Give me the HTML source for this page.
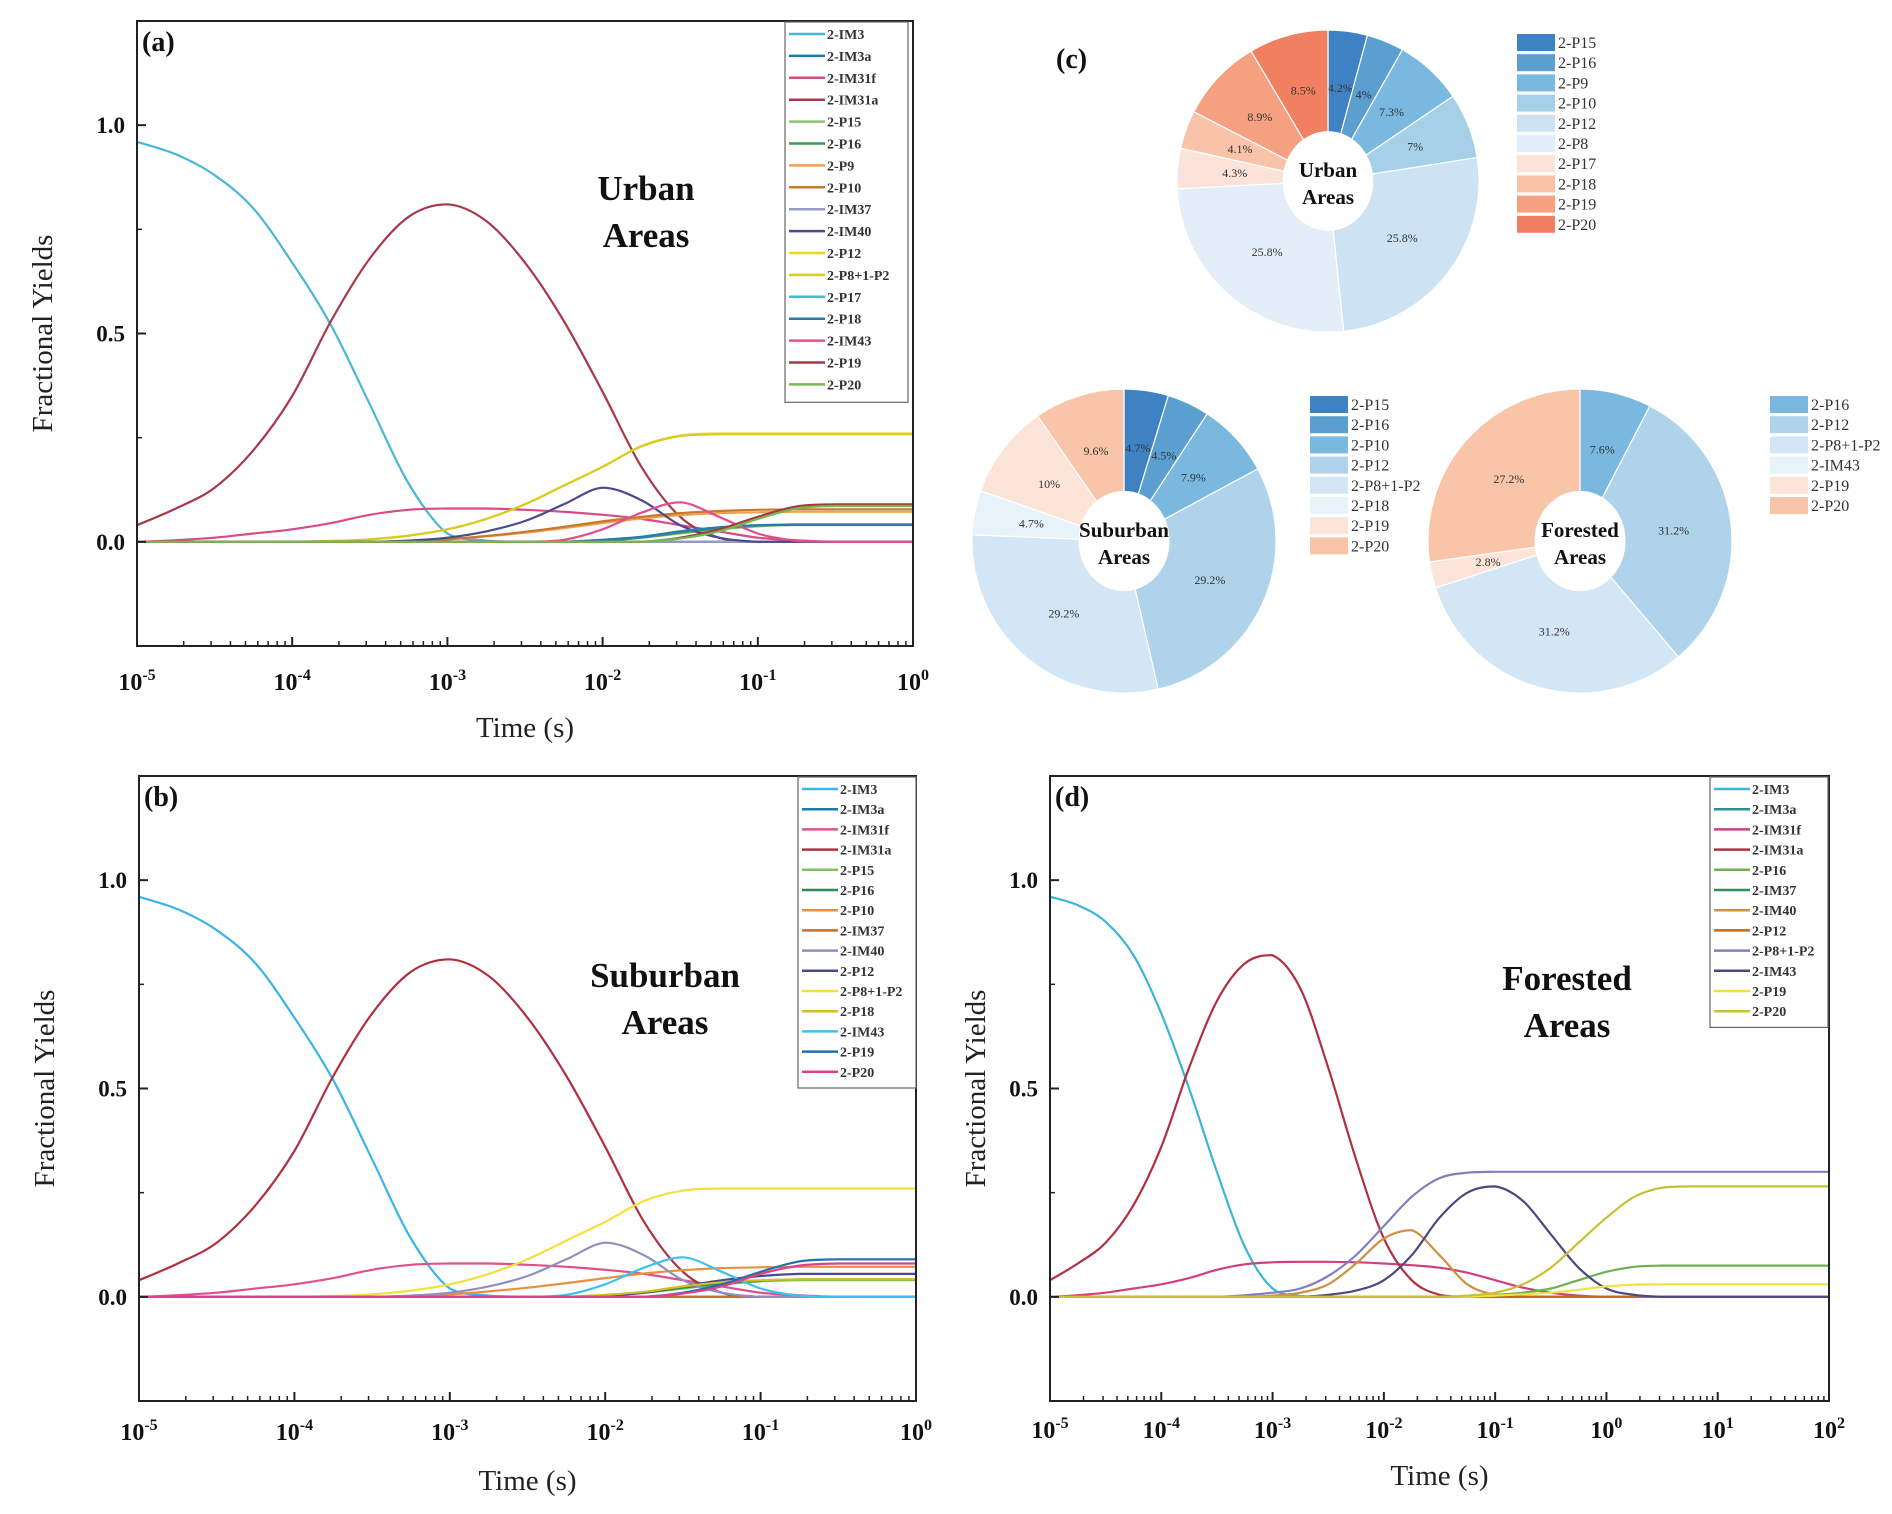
<!DOCTYPE html>
<html><head><meta charset="utf-8">
<style>
body{margin:0;background:#fff;}
svg{display:block;font-family:"Liberation Serif",serif;}
</style></head>
<body>
<svg id="fig" width="1892" height="1514" viewBox="0 0 1892 1514" xmlns="http://www.w3.org/2000/svg"></svg>
<script>
// ---------- DATA ----------
const gridAB = [-5,-4.75,-4.5,-4.25,-4,-3.75,-3.5,-3.25,-3,-2.75,-2.5,-2.25,-2,-1.75,-1.5,-1.25,-1,-0.75,-0.5,-0.25,0];
const gridD = [-5,-4.75,-4.5,-4.25,-4,-3.75,-3.5,-3.25,-3,-2.75,-2.5,-2.25,-2,-1.75,-1.5,-1.25,-1,-0.75,-0.5,-0.25,0,0.25,0.5,0.75,1,1.25,1.5,1.75,2];

const urbanNames = ["2-IM3","2-IM3a","2-IM31f","2-IM31a","2-P15","2-P16","2-P9","2-P10","2-IM37","2-IM40","2-P12","2-P8+1-P2","2-P17","2-P18","2-IM43","2-P19","2-P20"];
const urbanColors = ["#4cb6d6","#1f78a8","#d94a86","#a8384a","#8cc26a","#3a9a5a","#f0a050","#c8782a","#9a9ac8","#4a4a8c","#e8d820","#d8cc20","#40bcd0","#2a7ab0","#e0508c","#a03a44","#78b850"];
const urbanValues = [
 [0.96,0.93,0.88,0.80,0.67,0.52,0.33,0.14,0.02,0.003,0,0,0,0,0,0,0,0,0,0,0],
 [0,0,0,0,0,0,0,0,0,0,0,0,0,0,0,0,0,0,0,0,0],
 [0,0.004,0.01,0.02,0.03,0.045,0.065,0.077,0.08,0.08,0.077,0.072,0.065,0.055,0.04,0.025,0.01,0.004,0,0,0],
 [0.04,0.08,0.13,0.22,0.35,0.53,0.68,0.78,0.81,0.77,0.67,0.53,0.36,0.18,0.06,0.01,0,0,0,0,0],
 [0,0,0,0,0,0,0,0,0,0,0,0,0.003,0.01,0.02,0.03,0.037,0.04,0.04,0.04,0.04],
 [0,0,0,0,0,0,0,0,0,0,0,0,0.003,0.01,0.022,0.032,0.039,0.042,0.042,0.042,0.042],
 [0,0,0,0,0,0,0,0.002,0.006,0.013,0.022,0.033,0.045,0.056,0.064,0.069,0.071,0.072,0.072,0.072,0.072],
 [0,0,0,0,0,0,0,0.002,0.006,0.014,0.024,0.036,0.049,0.06,0.069,0.074,0.077,0.078,0.078,0.078,0.078],
 [0,0,0,0,0,0,0,0,0,0,0,0,0,0,0,0,0,0,0,0,0],
 [0,0,0,0,0,0,0,0.003,0.01,0.025,0.05,0.09,0.13,0.1,0.04,0.01,0,0,0,0,0],
 [0,0,0,0,0,0.002,0.006,0.015,0.03,0.055,0.09,0.135,0.18,0.23,0.255,0.26,0.26,0.26,0.26,0.26,0.26],
 [0,0,0,0,0,0.002,0.006,0.015,0.03,0.055,0.09,0.135,0.18,0.229,0.254,0.258,0.258,0.258,0.258,0.258,0.258],
 [0,0,0,0,0,0,0,0,0,0,0,0,0.005,0.012,0.025,0.035,0.04,0.042,0.042,0.042,0.042],
 [0,0,0,0,0,0,0,0,0,0,0,0,0.005,0.012,0.025,0.035,0.04,0.041,0.041,0.041,0.041],
 [0,0,0,0,0,0,0,0,0,0,0,0.005,0.03,0.07,0.095,0.06,0.02,0.003,0,0,0],
 [0,0,0,0,0,0,0,0,0,0,0,0,0,0,0.01,0.03,0.06,0.085,0.09,0.09,0.09],
 [0,0,0,0,0,0,0,0,0,0,0,0,0,0,0.008,0.025,0.055,0.08,0.086,0.086,0.086]
];

const suburbNames = ["2-IM3","2-IM3a","2-IM31f","2-IM31a","2-P15","2-P16","2-P10","2-IM37","2-IM40","2-P12","2-P8+1-P2","2-P18","2-IM43","2-P19","2-P20"];
const suburbColors = ["#3cb4ea","#1f78a8","#e0508a","#b03040","#80c060","#2e8b57","#e89040","#c07030","#9090c0","#4a4a90","#f0e040","#d0c020","#40c0f0","#2070b0","#e04090"];
const suburbValues = [
 [0.96,0.93,0.88,0.80,0.67,0.52,0.33,0.14,0.02,0.003,0,0,0,0,0,0,0,0,0,0,0],
 [0,0,0,0,0,0,0,0,0,0,0,0,0,0,0,0,0,0,0,0,0],
 [0,0.004,0.01,0.02,0.03,0.045,0.065,0.077,0.08,0.08,0.077,0.072,0.065,0.055,0.04,0.025,0.01,0.004,0,0,0],
 [0.04,0.08,0.13,0.22,0.35,0.53,0.68,0.78,0.81,0.77,0.67,0.53,0.36,0.18,0.06,0.01,0,0,0,0,0],
 [0,0,0,0,0,0,0,0,0,0,0,0,0.003,0.01,0.02,0.03,0.037,0.04,0.04,0.04,0.04],
 [0,0,0,0,0,0,0,0,0,0,0,0,0.003,0.01,0.022,0.032,0.039,0.042,0.042,0.042,0.042],
 [0,0,0,0,0,0,0,0.002,0.006,0.013,0.022,0.033,0.045,0.056,0.064,0.069,0.071,0.072,0.072,0.072,0.072],
 [0,0,0,0,0,0,0,0,0,0,0,0,0,0,0,0,0,0,0,0,0],
 [0,0,0,0,0,0,0,0.003,0.01,0.025,0.05,0.09,0.13,0.1,0.04,0.01,0,0,0,0,0],
 [0,0,0,0,0,0,0,0,0,0,0,0,0.003,0.01,0.025,0.04,0.05,0.055,0.055,0.055,0.055],
 [0,0,0,0,0,0.002,0.006,0.015,0.03,0.055,0.09,0.135,0.18,0.23,0.255,0.26,0.26,0.26,0.26,0.26,0.26],
 [0,0,0,0,0,0,0,0,0,0,0,0,0.005,0.012,0.025,0.035,0.04,0.042,0.042,0.042,0.042],
 [0,0,0,0,0,0,0,0,0,0,0,0.005,0.03,0.07,0.095,0.06,0.02,0.003,0,0,0],
 [0,0,0,0,0,0,0,0,0,0,0,0,0,0,0.01,0.03,0.06,0.085,0.09,0.09,0.09],
 [0,0,0,0,0,0,0,0,0,0,0,0,0,0,0.008,0.025,0.055,0.075,0.08,0.08,0.08]
];

const forestNames = ["2-IM3","2-IM3a","2-IM31f","2-IM31a","2-P16","2-IM37","2-IM40","2-P12","2-P8+1-P2","2-IM43","2-P19","2-P20"];
const forestColors = ["#3cb4d8","#2f9090","#d04080","#b03040","#70b050","#30905a","#d09040","#c06a20","#8080c0","#4a4a80","#f0e040","#c8c030"];
const forestValues = [
 [0.96,0.94,0.90,0.82,0.68,0.5,0.3,0.12,0.02,0.002,0,0,0,0,0,0,0,0,0,0,0,0,0,0,0,0,0,0,0],
 [0,0,0,0,0,0,0,0,0,0,0,0,0,0,0,0,0,0,0,0,0,0,0,0,0,0,0,0,0],
 [0,0.004,0.01,0.02,0.03,0.045,0.065,0.078,0.083,0.084,0.084,0.083,0.08,0.076,0.07,0.058,0.04,0.022,0.01,0.003,0,0,0,0,0,0,0,0,0],
 [0.04,0.08,0.13,0.22,0.36,0.55,0.71,0.8,0.82,0.74,0.55,0.33,0.14,0.04,0.005,0,0,0,0,0,0,0,0,0,0,0,0,0,0],
 [0,0,0,0,0,0,0,0,0,0,0,0,0,0,0,0,0.005,0.01,0.02,0.04,0.06,0.072,0.075,0.075,0.075,0.075,0.075,0.075,0.075],
 [0,0,0,0,0,0,0,0,0,0,0,0,0,0,0,0,0,0,0,0,0,0,0,0,0,0,0,0,0],
 [0,0,0,0,0,0,0,0,0.003,0.01,0.03,0.08,0.14,0.16,0.1,0.03,0.005,0,0,0,0,0,0,0,0,0,0,0,0],
 [0,0,0,0,0,0,0,0,0,0,0,0,0,0,0,0,0,0,0,0,0,0,0,0,0,0,0,0,0],
 [0,0,0,0,0,0,0,0.004,0.01,0.02,0.05,0.1,0.17,0.24,0.285,0.298,0.3,0.3,0.3,0.3,0.3,0.3,0.3,0.3,0.3,0.3,0.3,0.3,0.3],
 [0,0,0,0,0,0,0,0,0,0,0.005,0.015,0.04,0.1,0.19,0.25,0.265,0.23,0.15,0.07,0.02,0.005,0,0,0,0,0,0,0],
 [0,0,0,0,0,0,0,0,0,0,0,0,0,0,0,0,0.003,0.006,0.01,0.017,0.025,0.029,0.03,0.03,0.03,0.03,0.03,0.03,0.03],
 [0,0,0,0,0,0,0,0,0,0,0,0,0,0,0,0.003,0.01,0.03,0.07,0.13,0.19,0.24,0.262,0.265,0.265,0.265,0.265,0.265,0.265]
];

const yTickVals = [0.0,0.5,1.0];
const yTickLabels = ["0.0","0.5","1.0"];

const pieUrbanLabels = ["2-P15","2-P16","2-P9","2-P10","2-P12","2-P8","2-P17","2-P18","2-P19","2-P20"];
const pieUrbanValues = [4.2,4,7.3,7,25.8,25.8,4.3,4.1,8.9,8.5];
const pieUrbanColors = ["#3f82c4","#5a9fd0","#7ab8e0","#a6d0e8","#cde3f3","#e3eef8","#fbe3da","#f8c3a8","#f5a080","#f08060"];
const pieSubLabels = ["2-P15","2-P16","2-P10","2-P12","2-P8+1-P2","2-P18","2-P19","2-P20"];
const pieSubValues = [4.7,4.5,7.9,29.2,29.2,4.7,10,9.6];
const pieSubColors = ["#3f82c4","#5a9fd0","#7ab8e0","#aed3ea","#d2e6f5","#e8f3f9","#fce5d8","#f9c5a8"];
const pieForLabels = ["2-P16","2-P12","2-P8+1-P2","2-IM43","2-P19","2-P20"];
const pieForValues = [7.6,31.2,31.2,0,2.8,27.2];
const pieForColors = ["#7ab8e0","#aed3ea","#d2e6f5","#e8f3f9","#fce5d8","#f9c5a8"];

// ---------- DRAWING ----------
const NS="http://www.w3.org/2000/svg";
const svg=document.getElementById('fig');
function mk(tag,attrs,parent){const e=document.createElementNS(NS,tag);for(const k in attrs)e.setAttribute(k,attrs[k]);(parent||svg).appendChild(e);return e;}
function txt(s,attrs,parent){const e=mk('text',attrs,parent);e.textContent=s;return e;}

function smoothPath(pts){
  let d='M'+pts[0][0].toFixed(1)+','+pts[0][1].toFixed(1);
  for(let i=0;i<pts.length-1;i++){
    const p0=pts[Math.max(0,i-1)],p1=pts[i],p2=pts[i+1],p3=pts[Math.min(pts.length-1,i+2)];
    let c1x=p1[0]+(p2[0]-p0[0])/6,c1y=p1[1]+(p2[1]-p0[1])/6;
    let c2x=p2[0]-(p3[0]-p1[0])/6,c2y=p2[1]-(p3[1]-p1[1])/6;
    const lo=Math.min(p1[1],p2[1]),hi=Math.max(p1[1],p2[1]);
    c1y=Math.min(hi,Math.max(lo,c1y));c2y=Math.min(hi,Math.max(lo,c2y));
    d+=' C'+c1x.toFixed(1)+','+c1y.toFixed(1)+' '+c2x.toFixed(1)+','+c2y.toFixed(1)+' '+p2[0].toFixed(1)+','+p2[1].toFixed(1);
  }
  return d;
}

function linePanel(cfg){
  const g=mk('g',{});
  
  
  const {L,T,R,B,xmin,xmax}=cfg, ymin=-0.25, ymax=1.25;
  const xs=v=>L+(v-xmin)/(xmax-xmin)*(R-L);
  const ys=v=>B-(v-ymin)/(ymax-ymin)*(B-T);
  cfg.values.forEach((vals,si)=>{
    const pts=vals.map((v,i)=>[xs(cfg.grid[i]),ys(v)]);
    const p=mk('path',{d:smoothPath(pts),fill:'none',stroke:cfg.colors[si],'stroke-width':2.2},g);
    
    
  });
  const fr=mk('rect',{x:L,y:T,width:R-L,height:B-T,fill:'none',stroke:'#222','stroke-width':2},g);
  
  
  const xt=mk('g',{},g);
  
  
  for(let e=xmin;e<=xmax;e++){
    const x=xs(e);
    mk('line',{x1:x,y1:B,x2:x,y2:B-9,stroke:'#222','stroke-width':2},xt);
    const t=txt('',{x:x,y:cfg.xlabY,'text-anchor':'middle','font-size':24,'font-weight':'bold',fill:'#111'},xt);
    
    
    const a=document.createElementNS(NS,'tspan');a.textContent='10';t.appendChild(a);
    const b=document.createElementNS(NS,'tspan');b.textContent=String(e);b.setAttribute('dy','-10');b.setAttribute('font-size','16');t.appendChild(b);
    if(e<xmax){for(let m=2;m<=9;m++){const xm=xs(e+Math.log10(m));mk('line',{x1:xm,y1:B,x2:xm,y2:B-5,stroke:'#222','stroke-width':1.5},xt);}}
  }
  const xtitle=txt('Time (s)',{x:(L+R)/2,y:cfg.xtitleY,'text-anchor':'middle','font-size':29,fill:'#222'},g);
  
  
  const yt=mk('g',{},g);
  
  
  for(let v=-0.25;v<=1.25;v+=0.25){const y=ys(v);mk('line',{x1:L,y1:y,x2:L+5,y2:y,stroke:'#222','stroke-width':1.5},yt);}
  yTickVals.forEach((v,i)=>{const y=ys(v);mk('line',{x1:L,y1:y,x2:L+9,y2:y,stroke:'#222','stroke-width':2},yt);
    const t=txt(yTickLabels[i],{x:L-12,y:y+8,'text-anchor':'end','font-size':23,'font-weight':'bold',fill:'#111'},yt);
    
    });
  const yl=txt('Fractional Yields',{x:0,y:0,'text-anchor':'middle','font-size':29,fill:'#222',transform:`translate(${cfg.ytitleX},${(T+B)/2}) rotate(-90)`},g);
  
  
  const pl=txt(cfg.letter,{x:L+5,y:T+30,'font-size':28,'font-weight':'bold',fill:'#111'},g);
  
  
  cfg.title.forEach((s,i)=>{const t=txt(s,{x:cfg.titleX,y:cfg.titleY+i*47,'text-anchor':'middle','font-size':35,'font-weight':'bold',fill:'#111'},g);
    
    });
  const lg=mk('g',{},g);
  
  
  const n=cfg.names.length, rh=cfg.legRow;
  mk('rect',{x:cfg.legX,y:cfg.legY,width:cfg.legW,height:n*rh+8,fill:'#fff',stroke:'#666','stroke-width':1.2},lg);
  cfg.names.forEach((nm,i)=>{const y=cfg.legY+12+i*rh;
    const e=mk('g',{},lg);
    
    
    mk('line',{x1:cfg.legX+4,y1:y,x2:cfg.legX+40,y2:y,stroke:cfg.colors[i],'stroke-width':2.5},e);
    txt(nm,{x:cfg.legX+42,y:y+5,'font-size':14,'font-weight':'bold',fill:'#333'},e);});
}

linePanel({name:'panel-a-urban',letter:'(a)',L:137,T:21,R:913,B:646,xmin:-5,xmax:0,grid:gridAB,values:urbanValues,names:urbanNames,colors:urbanColors,
  xlabY:690,xtitleY:737,ytitleX:52,title:['Urban','Areas'],titleX:646,titleY:200,legX:785,legY:22,legW:123,legRow:21.9});
linePanel({name:'panel-b-suburban',letter:'(b)',L:139,T:776,R:916,B:1401,xmin:-5,xmax:0,grid:gridAB,values:suburbValues,names:suburbNames,colors:suburbColors,
  xlabY:1440,xtitleY:1490,ytitleX:54,title:['Suburban','Areas'],titleX:665,titleY:987,legX:798,legY:777,legW:118,legRow:20.2});
linePanel({name:'panel-d-forested',letter:'(d)',L:1050,T:776,R:1829,B:1401,xmin:-5,xmax:2,grid:gridD,values:forestValues,names:forestNames,colors:forestColors,
  xlabY:1438,xtitleY:1485,ytitleX:985,title:['Forested','Areas'],titleX:1567,titleY:990,legX:1710,legY:777,legW:118,legRow:20.2});

function pie(cfg){
  const g=mk('g',{});
  
  
  const total=cfg.values.reduce((a,b)=>a+b,0);
  let a0=-Math.PI/2;
  cfg.values.forEach((v,i)=>{
    if(v<=0)return;
    const a1=a0+v/total*2*Math.PI;
    const {cx,cy,r}=cfg;
    const large=(a1-a0)>Math.PI?1:0;
    const d=`M${cx},${cy} L${cx+r*Math.cos(a0)},${cy+r*Math.sin(a0)} A${r},${r} 0 ${large} 1 ${cx+r*Math.cos(a1)},${cy+r*Math.sin(a1)} Z`;
    const p=mk('path',{d:d,fill:cfg.colors[i],stroke:'#fff','stroke-width':1.2},g);
    
    
    const am=(a0+a1)/2, lr=r*0.62;
    const t=txt(String(v)+'%',{x:cx+lr*Math.cos(am),y:cy+lr*Math.sin(am)+4,'text-anchor':'middle','font-size':12,fill:'#333'},g);
    
    
    a0=a1;
  });
  const c=mk('ellipse',{cx:cfg.cx,cy:cfg.cy,rx:cfg.r*0.3,ry:cfg.r*0.33,fill:'#fff'},g);
  
  
  cfg.title.forEach((s,i)=>{const t=txt(s,{x:cfg.cx,y:cfg.cy-4+i*27,'text-anchor':'middle','font-size':21,'font-weight':'bold',fill:'#111'},g);
    
    });
  const lg=mk('g',{},g);
  
  
  cfg.labels.forEach((s,i)=>{const y=cfg.legY+i*20.2;
    const e=mk('g',{},lg);
    
    
    mk('rect',{x:cfg.legX,y:y,width:38,height:17,fill:cfg.colors[i]},e);
    txt(s,{x:cfg.legX+41,y:y+14,'font-size':16,fill:'#333'},e);});
}
pie({name:'pie-urban',cx:1328,cy:181,r:151,values:pieUrbanValues,labels:pieUrbanLabels,colors:pieUrbanColors,title:['Urban','Areas'],legX:1517,legY:34});
pie({name:'pie-suburban',cx:1124,cy:541,r:152,values:pieSubValues,labels:pieSubLabels,colors:pieSubColors,title:['Suburban','Areas'],legX:1310,legY:396});
pie({name:'pie-forested',cx:1580,cy:541,r:152,values:pieForValues,labels:pieForLabels,colors:pieForColors,title:['Forested','Areas'],legX:1770,legY:396});
const lc=txt('(c)',{x:1056,y:68,'font-size':28,'font-weight':'bold',fill:'#111'});


</script>
</body></html>
